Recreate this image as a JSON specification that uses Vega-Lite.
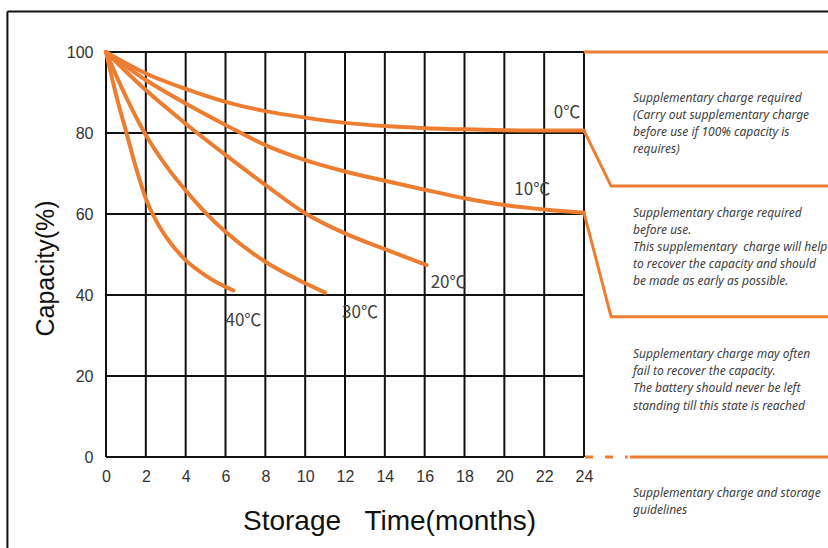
{
  "$schema": "https://vega.github.io/schema/vega-lite/v6.json",
  "autosize": "none",
  "width": 722,
  "height": 405,
  "padding": {"left": 106, "top": 52, "right": 0, "bottom": 91},
  "background": "white",
  "config": {"view": {"stroke": null}},
  "datasets": {
    "curves": [
      {"temp": "0", "t": 0, "cap": 100}, {"temp": "0", "t": 2, "cap": 94.7}, {"temp": "0", "t": 4, "cap": 90.9}, {"temp": "0", "t": 6, "cap": 87.7}, {"temp": "0", "t": 8, "cap": 85.4}, {"temp": "0", "t": 10, "cap": 83.8}, {"temp": "0", "t": 12, "cap": 82.5}, {"temp": "0", "t": 14, "cap": 81.7}, {"temp": "0", "t": 16, "cap": 81.2}, {"temp": "0", "t": 18, "cap": 80.9}, {"temp": "0", "t": 20, "cap": 80.7}, {"temp": "0", "t": 22, "cap": 80.6}, {"temp": "0", "t": 24, "cap": 80.6},
      {"temp": "10", "t": 0, "cap": 100}, {"temp": "10", "t": 2, "cap": 93.1}, {"temp": "10", "t": 4, "cap": 87.3}, {"temp": "10", "t": 6, "cap": 82.0}, {"temp": "10", "t": 8, "cap": 77.0}, {"temp": "10", "t": 10, "cap": 73.3}, {"temp": "10", "t": 12, "cap": 70.5}, {"temp": "10", "t": 14, "cap": 68.2}, {"temp": "10", "t": 16, "cap": 66.0}, {"temp": "10", "t": 18, "cap": 63.9}, {"temp": "10", "t": 20, "cap": 62.2}, {"temp": "10", "t": 22, "cap": 61.1}, {"temp": "10", "t": 24, "cap": 60.3},
      {"temp": "20", "t": 0, "cap": 100}, {"temp": "20", "t": 1, "cap": 95.2}, {"temp": "20", "t": 2, "cap": 90.6}, {"temp": "20", "t": 4, "cap": 82.3}, {"temp": "20", "t": 6, "cap": 74.6}, {"temp": "20", "t": 8, "cap": 67.2}, {"temp": "20", "t": 10, "cap": 60.2}, {"temp": "20", "t": 12, "cap": 55.2}, {"temp": "20", "t": 14, "cap": 51.3}, {"temp": "20", "t": 16.1, "cap": 47.4},
      {"temp": "30", "t": 0, "cap": 100}, {"temp": "30", "t": 0.5, "cap": 94.3}, {"temp": "30", "t": 1, "cap": 89}, {"temp": "30", "t": 2, "cap": 79.5}, {"temp": "30", "t": 3, "cap": 72}, {"temp": "30", "t": 4, "cap": 65.8}, {"temp": "30", "t": 5, "cap": 60.3}, {"temp": "30", "t": 6, "cap": 55.6}, {"temp": "30", "t": 8, "cap": 48.2}, {"temp": "30", "t": 10, "cap": 42.9}, {"temp": "30", "t": 11, "cap": 40.6},
      {"temp": "40", "t": 0, "cap": 100}, {"temp": "40", "t": 0.25, "cap": 94.6}, {"temp": "40", "t": 0.5, "cap": 89.5}, {"temp": "40", "t": 1, "cap": 80.5}, {"temp": "40", "t": 1.5, "cap": 71.5}, {"temp": "40", "t": 2, "cap": 63.8}, {"temp": "40", "t": 2.5, "cap": 58.5}, {"temp": "40", "t": 3, "cap": 54.5}, {"temp": "40", "t": 4, "cap": 48.6}, {"temp": "40", "t": 5, "cap": 44.8}, {"temp": "40", "t": 6, "cap": 42.0}, {"temp": "40", "t": 6.4, "cap": 41.1}
    ],
    "vgrid": [
      {"t": 0}, {"t": 2}, {"t": 4}, {"t": 6}, {"t": 8}, {"t": 10}, {"t": 12}, {"t": 14}, {"t": 16}, {"t": 18}, {"t": 20}, {"t": 22}, {"t": 24}
    ],
    "hgrid": [
      {"cap": 0}, {"cap": 20}, {"cap": 40}, {"cap": 60}, {"cap": 80}, {"cap": 100}
    ],
    "zones": [
      {"seg": "a", "t": 24, "cap": 100}, {"seg": "a", "t": 36.5, "cap": 100},
      {"seg": "b", "t": 24, "cap": 80.6}, {"seg": "b", "t": 25.36, "cap": 66.9}, {"seg": "b", "t": 36.5, "cap": 66.9},
      {"seg": "c", "t": 24, "cap": 60.3}, {"seg": "c", "t": 25.36, "cap": 34.6}, {"seg": "c", "t": 36.5, "cap": 34.6},
      {"seg": "d", "t": 26.3, "cap": 0}, {"seg": "d", "t": 36.5, "cap": 0}
    ],
    "dashed": [
      {"t": 24.05, "cap": 0}, {"t": 26.2, "cap": 0}
    ],
    "labels": [
      {"label": "0℃", "t": 23.15, "cap": 84.9},
      {"label": "10℃", "t": 21.4, "cap": 65.9},
      {"label": "20℃", "t": 17.2, "cap": 42.9},
      {"label": "30℃", "t": 12.75, "cap": 35.5},
      {"label": "40℃", "t": 6.9, "cap": 33.6}
    ],
    "notes": [
      {"txt": "Supplementary charge required", "t": 26.46, "cap": 88.7},
      {"txt": "(Carry out supplementary charge", "t": 26.46, "cap": 84.4},
      {"txt": "before use if 100% capacity is", "t": 26.46, "cap": 80.2},
      {"txt": "requires)", "t": 26.46, "cap": 76.0},
      {"txt": "Supplementary charge required", "t": 26.46, "cap": 60.2},
      {"txt": "before use.", "t": 26.46, "cap": 56.0},
      {"txt": "This supplementary\u00a0 charge will help", "t": 26.46, "cap": 51.8},
      {"txt": "to recover the capacity and should", "t": 26.46, "cap": 47.6},
      {"txt": "be made as early as possible.", "t": 26.46, "cap": 43.5},
      {"txt": "Supplementary charge may often", "t": 26.46, "cap": 25.4},
      {"txt": "fail to recover the capacity.", "t": 26.46, "cap": 21.3},
      {"txt": "The battery should never be left", "t": 26.46, "cap": 17.0},
      {"txt": "standing till this state is reached", "t": 26.46, "cap": 12.7},
      {"txt": "Supplementary charge and storage", "t": 26.46, "cap": -9.0},
      {"txt": "guidelines", "t": 26.46, "cap": -13.1}
    ],
    "frameV": [{"t": -4.95, "cap": -30, "cap2": 110.0}],
    "frameH": [{"t": -4.95, "t2": 40, "cap": 110.0}]
  },
  "layer": [
    {
      "data": {"name": "vgrid"},
      "mark": {"type": "rule", "color": "#111111", "strokeWidth": 2},
      "encoding": {
        "x": {"field": "t", "type": "quantitative", "scale": {"domain": [0, 36.25], "nice": false, "zero": false},
          "axis": {"values": [0, 2, 4, 6, 8, 10, 12, 14, 16, 18, 20, 22, 24], "grid": false, "domain": false, "ticks": false, "labelPadding": 11, "labelFontSize": 16, "labelColor": "#333333", "labelFont": "Liberation Sans", "labelFlush": false,
            "title": "Storage\u00a0\u00a0\u00a0Time(months)", "titleFontSize": 28, "titleFontWeight": "normal", "titleColor": "#111111", "titleFont": "Liberation Sans", "titleX": 283, "titleY": 64, "titleBaseline": "middle", "titleAnchor": "middle"}},
        "y": {"datum": 0, "type": "quantitative", "scale": {"domain": [0, 100], "nice": false, "zero": false}},
        "y2": {"datum": 100}
      }
    },
    {
      "data": {"name": "hgrid"},
      "mark": {"type": "rule", "color": "#111111", "strokeWidth": 2},
      "encoding": {
        "y": {"field": "cap", "type": "quantitative",
          "axis": {"values": [0, 20, 40, 60, 80, 100], "grid": false, "domain": false, "ticks": false, "labelPadding": 13, "labelFontSize": 16, "labelColor": "#333333", "labelFont": "Liberation Sans", "labelFlush": false,
            "title": "Capacity(%)", "titleFontSize": 25, "titleFontWeight": "normal", "titleColor": "#111111", "titleFont": "Liberation Sans", "titleX": -61, "titleY": 216, "titleBaseline": "middle", "titleAnchor": "middle", "titleAngle": -90}},
        "x": {"datum": 0, "type": "quantitative"},
        "x2": {"datum": 24}
      }
    },
    {
      "data": {"name": "frameV"},
      "mark": {"type": "rule", "color": "#111111", "strokeWidth": 2},
      "encoding": {
        "x": {"field": "t", "type": "quantitative"},
        "y": {"field": "cap", "type": "quantitative"},
        "y2": {"field": "cap2"}
      }
    },
    {
      "data": {"name": "frameH"},
      "mark": {"type": "rule", "color": "#111111", "strokeWidth": 2},
      "encoding": {
        "x": {"field": "t", "type": "quantitative"},
        "x2": {"field": "t2"},
        "y": {"field": "cap", "type": "quantitative"}
      }
    },
    {
      "data": {"name": "curves"},
      "mark": {"type": "line", "color": "#ED7D31", "strokeWidth": 4, "interpolate": "monotone", "strokeCap": "round"},
      "encoding": {
        "x": {"field": "t", "type": "quantitative"},
        "y": {"field": "cap", "type": "quantitative"},
        "detail": {"field": "temp"}
      }
    },
    {
      "data": {"name": "zones"},
      "mark": {"type": "line", "color": "#ED7D31", "strokeWidth": 3},
      "encoding": {
        "x": {"field": "t", "type": "quantitative"},
        "y": {"field": "cap", "type": "quantitative"},
        "detail": {"field": "seg"}
      }
    },
    {
      "data": {"name": "dashed"},
      "mark": {"type": "line", "color": "#ED7D31", "strokeWidth": 3, "strokeDash": [8, 12]},
      "encoding": {
        "x": {"field": "t", "type": "quantitative"},
        "y": {"field": "cap", "type": "quantitative"}
      }
    },
    {
      "data": {"name": "labels"},
      "mark": {"type": "text", "fontSize": 17, "color": "#404040", "font": "Noto Sans CJK SC", "align": "center", "baseline": "middle"},
      "encoding": {
        "x": {"field": "t", "type": "quantitative"},
        "y": {"field": "cap", "type": "quantitative"},
        "text": {"field": "label"}
      }
    },
    {
      "data": {"name": "notes"},
      "mark": {"type": "text", "fontSize": 12, "fontStyle": "italic", "color": "#404040", "font": "Noto Sans", "align": "left", "baseline": "middle"},
      "encoding": {
        "x": {"field": "t", "type": "quantitative"},
        "y": {"field": "cap", "type": "quantitative"},
        "text": {"field": "txt"}
      }
    }
  ]
}
